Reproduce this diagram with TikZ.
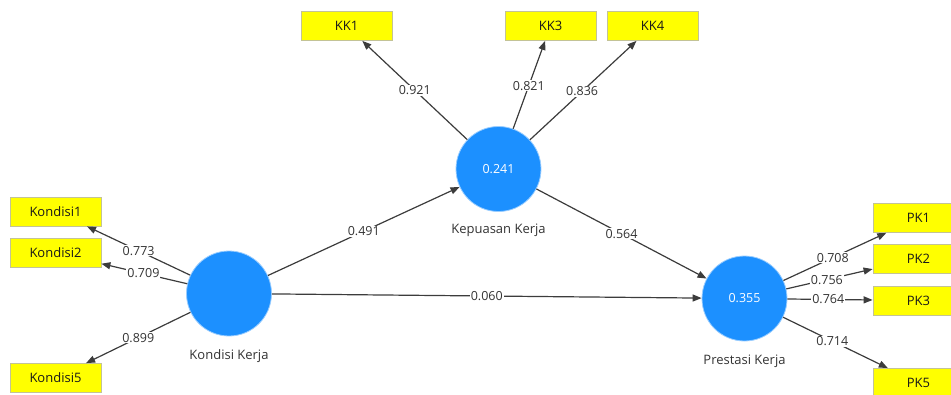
\documentclass[tikz,border=0pt]{standalone}
\usepackage{fontspec}
\setmainfont{Open Sans}
\usetikzlibrary{arrows.meta,positioning}
\definecolor{lvblue}{RGB}{28,144,255}
\definecolor{mvyellow}{RGB}{255,255,0}
\definecolor{mvedge}{RGB}{195,195,150}
\definecolor{pathgray}{RGB}{60,60,60}
\begin{document}
\begin{tikzpicture}[x=1pt,y=-1pt,
  latent/.style={circle,fill=lvblue,draw=lvblue!45,line width=0.8pt,minimum size=85pt,inner sep=0pt,text=white,font=\fontsize{12.5}{14}\selectfont},
  manifest/.style={rectangle,fill=mvyellow,draw=mvedge,line width=0.8pt,minimum width=91pt,minimum height=29pt,font=\fontsize{13}{15}\selectfont,text=black!90},
  latname/.style={font=\fontsize{13}{15}\selectfont,text=black!80},
  pathline/.style={draw=pathgray,line width=1.2pt,-{Triangle[length=9pt,width=7pt]}},
  coef/.style={pos=#1,fill=white,inner sep=1pt,font=\fontsize{12.5}{14}\selectfont,text=black!80},
  coef/.default=0.5]
\useasboundingbox (0,0) rectangle (951,394);
% latent variables
\node[latent] (kon) at (229,293.5) {};
\node[latent] (kep) at (498.5,169) {0.241};
\node[latent] (pre) at (744.5,298.5) {0.355};
\node[latname, below=10pt of kon] (konlab) {Kondisi Kerja};
\node[latname, below=9pt of kep] (keplab) {Kepuasan Kerja};
\node[latname, below=10pt of pre] (prelab) {Prestasi Kerja};
% indicators
\node[manifest] (kon1) at (55.5,211.5) {Kondisi1};
\node[manifest] (kon2) at (55.5,253) {Kondisi2};
\node[manifest] (kon5) at (55.5,378) {Kondisi5};
\node[manifest] (kk1) at (346.5,26) {KK1};
\node[manifest] (kk3) at (550.5,26) {KK3};
\node[manifest] (kk4) at (652.5,26) {KK4};
\node[manifest] (pk1) at (918.5,218) {PK1};
\node[manifest] (pk2) at (918.5,258.5) {PK2};
\node[manifest] (pk3) at (918.5,300.5) {PK3};
\node[manifest] (pk5) at (918.5,383) {PK5};
% outer loadings
\foreach \from/\to/\val/\p in {kon/kon1/0.773/0.5, kon/kon2/0.709/0.51, kon/kon5/0.899/0.5,
    kep/kk1/0.921/0.5, kep/kk3/0.821/0.49, kep/kk4/0.836/0.49,
    pre/pk1/0.708/0.48, pre/pk2/0.756/0.47, pre/pk3/0.764/0.48, pre/pk5/0.714/0.47}
  \draw[pathline] (\from) -- node[coef=\p] {\val} (\to);
% path coefficients
\draw[pathline] (kon) -- node[coef] {0.491} (kep);
\draw[pathline] (kep) -- node[coef] {0.564} (pre);
\draw[pathline] (kon) -- node[coef] {0.060} (pre);
\end{tikzpicture}
\end{document}
